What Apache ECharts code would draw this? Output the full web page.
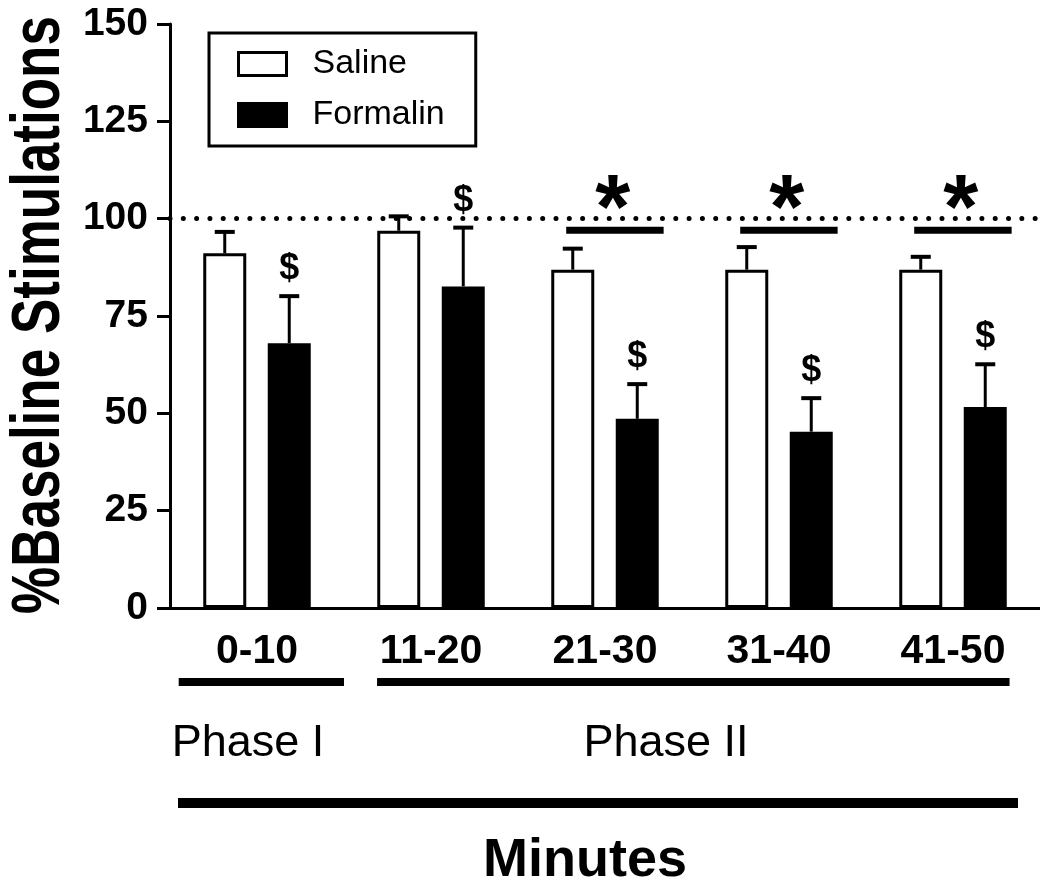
<!DOCTYPE html>
<html>
<head>
<meta charset="utf-8">
<script src="https://cdn.jsdelivr.net/npm/echarts@6/dist/echarts.min.js"></script>
<style>
  html, body { margin: 0; padding: 0; background: #fff; }
  #chart { width: 1040px; height: 890px; }
</style>
</head>
<body>
<div id="chart"></div>
<script>
// data
const categories = ['0-10', '11-20', '21-30', '31-40', '41-50'];
const salineMean = [91.1, 96.9, 86.9, 86.9, 86.9];
const salineSem = [5.5, 3.7, 5.4, 5.8, 3.3];
const formalinMean = [68.0, 82.6, 48.6, 45.3, 51.6];
const formalinSem = [12.1, 15.1, 8.9, 8.6, 11.0];
const formalinDollar = [1, 1, 1, 1, 1];
const starCategories = ['21-30', '31-40', '41-50'];
const starLevel = 97;
const baselineLevel = 100;
const yMin = 0, yMax = 150, yStep = 25;

const FONT = '"Liberation Sans", Arial, Helvetica, sans-serif';
const BAR_W = 43;
const BAR_GAP = 0.5;
const OFFSET = (BAR_W + BAR_W * BAR_GAP) / 2;

const chart = echarts.init(document.getElementById('chart'), null, { renderer: 'canvas' });

function errorBarItem(offset) {
  return function (params, api) {
    const i = api.value(0);
    const base = api.coord([i, api.value(1)]);
    const top = api.coord([i, api.value(1) + api.value(2)]);
    const x = base[0] + offset;
    const children = [
      { type: 'line', shape: { x1: x, y1: base[1], x2: x, y2: top[1] }, style: { stroke: '#000', lineWidth: 3 } },
      { type: 'line', shape: { x1: x - 10, y1: top[1], x2: x + 10, y2: top[1] }, style: { stroke: '#000', lineWidth: 4 } }
    ];
    if (api.value(3)) {
      children.push({
        type: 'text', x: x, y: top[1] - 9,
        style: { text: '$', font: 'bold 36px ' + FONT, fill: '#000',
          textAlign: 'center', textVerticalAlign: 'bottom', align: 'center', verticalAlign: 'bottom' }
      });
    }
    return { type: 'group', children };
  };
}

function starItem(params, api) {
  const i = api.value(0);
  const p = api.coord([i, api.value(1)]);
  const band = api.size([1, 0])[0];
  return {
    type: 'group',
    children: [
      { type: 'rect', shape: { x: p[0] - 0.223 * band, y: p[1] - 3.5, width: 0.56 * band, height: 7 }, style: { fill: '#000' } },
      { type: 'text', x: p[0] + 0.045 * band, y: p[1] + 28,
        style: { text: '*', font: 'bold 90px ' + FONT, fill: '#000',
          textAlign: 'center', textVerticalAlign: 'bottom', align: 'center', verticalAlign: 'bottom' } }
    ]
  };
}

chart.setOption({
  animation: false,
  backgroundColor: '#fff',
  grid: { left: 170, right: -5, top: 24, bottom: 282, containLabel: false },
  legend: {
    orient: 'vertical',
    left: 209, top: 33,
    padding: [14, 31, 14, 28],
    itemWidth: 48, itemHeight: 23, itemGap: 17,
    borderColor: '#000', borderWidth: 3,
    icon: 'rect',
    itemStyle: { borderWidth: 3, borderColor: '#000' },
    textStyle: { fontFamily: FONT, fontSize: 34, color: '#000', padding: [0, 0, 0, 21] },
    data: ['Saline', 'Formalin']
  },
  xAxis: {
    type: 'category',
    data: categories,
    axisLine: { lineStyle: { color: '#000', width: 3 } },
    axisTick: { alignWithLabel: true, length: 12, lineStyle: { color: '#000', width: 3 } },
    axisLabel: { color: '#000', fontFamily: FONT, fontWeight: 'bold', fontSize: 41, margin: 23 },
    splitLine: { show: false }
  },
  yAxis: {
    type: 'value',
    min: yMin, max: yMax, interval: yStep,
    axisLine: { show: true, lineStyle: { color: '#000', width: 3 } },
    axisTick: { show: true, length: 13, lineStyle: { color: '#000', width: 3 } },
    axisLabel: { color: '#000', fontFamily: FONT, fontWeight: 'bold', fontSize: 39, margin: 22 },
    splitLine: { show: false }
  },
  series: [
    {
      name: 'Saline', type: 'bar', data: salineMean,
      barWidth: BAR_W, barGap: (BAR_GAP * 100) + '%',
      itemStyle: { color: '#fff', borderColor: '#000', borderWidth: 3 },
      markLine: {
        silent: true, symbol: 'none', label: { show: false },
        lineStyle: { color: '#000', width: 5, type: [0.01, 13.3], cap: 'round' },
        data: [{ yAxis: baselineLevel }]
      }
    },
    {
      name: 'Formalin', type: 'bar', data: formalinMean,
      barWidth: BAR_W,
      itemStyle: { color: '#000', borderColor: '#000', borderWidth: 3 }
    },
    {
      type: 'custom', renderItem: errorBarItem(-OFFSET),
      encode: { x: 0, y: 1 },
      data: salineMean.map((m, i) => [i, m, salineSem[i], 0]), z: 3
    },
    {
      type: 'custom', renderItem: errorBarItem(OFFSET),
      encode: { x: 0, y: 1 },
      data: formalinMean.map((m, i) => [i, m, formalinSem[i], formalinDollar[i]]), z: 3
    },
    {
      type: 'custom', renderItem: starItem,
      encode: { x: 0, y: 1 },
      data: starCategories.map(c => [categories.indexOf(c), starLevel]), z: 3
    }
  ]
});

// phase brackets and axis titles below the x axis
const cx = categories.map(c => chart.convertToPixel({ xAxisIndex: 0 }, c));
const band = cx[1] - cx[0];
chart.setOption({
  graphic: [
    { type: 'rect', shape: { x: cx[0] - 0.45 * band, y: 678, width: 0.95 * band, height: 8 }, style: { fill: '#000' } },
    { type: 'rect', shape: { x: cx[1] - 0.31 * band, y: 678, width: cx[4] - cx[1] + 0.635 * band, height: 8 }, style: { fill: '#000' } },
    { type: 'text', x: 248, y: 744,
      style: { text: 'Phase I', font: '45px ' + FONT, fill: '#000', textAlign: 'center', textVerticalAlign: 'middle', align: 'center', verticalAlign: 'middle' } },
    { type: 'text', x: 666, y: 744,
      style: { text: 'Phase II', font: '45px ' + FONT, fill: '#000', textAlign: 'center', textVerticalAlign: 'middle', align: 'center', verticalAlign: 'middle' } },
    { type: 'rect', shape: { x: 178, y: 798, width: 840, height: 10 }, style: { fill: '#000' } },
    { type: 'text', x: 585, y: 861,
      style: { text: 'Minutes', font: 'bold 54px ' + FONT, fill: '#000', textAlign: 'center', textVerticalAlign: 'middle', align: 'center', verticalAlign: 'middle' } },
    { type: 'text', x: 40, y: 315, rotation: Math.PI / 2, scaleY: 1.3,
      style: { text: '%Baseline Stimulations', font: 'bold 53px ' + FONT, fill: '#000', textAlign: 'center', textVerticalAlign: 'middle', align: 'center', verticalAlign: 'middle' } }
  ]
});
</script>
</body>
</html>
